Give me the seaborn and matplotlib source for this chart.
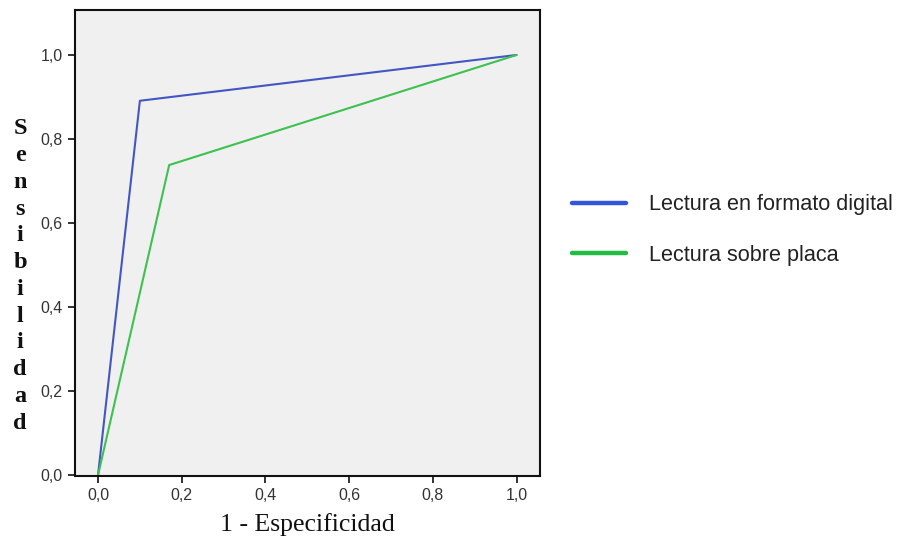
import matplotlib
matplotlib.use("Agg")
import matplotlib.pyplot as plt
import seaborn as sns
import pandas as pd

# Data
fpr_digital = [0.0, 0.10, 1.0]
tpr_digital = [0.0, 0.891, 1.0]
fpr_placa = [0.0, 0.170, 1.0]
tpr_placa = [0.0, 0.738, 1.0]
series_names = ["Lectura en formato digital", "Lectura sobre placa"]
tick_values = [0.0, 0.2, 0.4, 0.6, 0.8, 1.0]
tick_labels = ["0,0", "0,2", "0,4", "0,6", "0,8", "1,0"]
colors = ["#4257C2", "#3DC24F"]

df = pd.concat([
    pd.DataFrame({"x": fpr_digital, "y": tpr_digital, "serie": series_names[0]}),
    pd.DataFrame({"x": fpr_placa, "y": tpr_placa, "serie": series_names[1]}),
], ignore_index=True)

sns.set_style("ticks")
plt.rcParams["font.family"] = ["Liberation Sans", "DejaVu Sans"]

fig = plt.figure(figsize=(8.97, 5.45), dpi=100)
ax = fig.add_axes([75/897, (545-476)/545, 465/897, 466/545])
ax.set_facecolor("#F0F0F0")

sns.lineplot(data=df, x="x", y="y", hue="serie", palette=colors, sort=False,
             estimator=None, linewidth=1.5, ax=ax, legend=True)

ax.set_xlim(-0.055, 1.056)
ax.set_ylim(-0.002, 1.107)
ax.set_xticks(tick_values)
ax.set_xticklabels(tick_labels)
ax.set_yticks(tick_values)
ax.set_yticklabels(tick_labels)
ax.tick_params(axis="both", direction="out", length=5, width=1.3, colors="#222222",
               labelsize=11.5, labelcolor="#333333", pad=4)
for s in ax.spines.values():
    s.set_visible(True)
    s.set_linewidth(1.5)
    s.set_color("#111111")

ax.set_xlabel("1 - Especificidad", family=["Liberation Serif"], fontsize=18.5, labelpad=7,
              color="#111111")
ax.set_ylabel("")
fig.text(20/897, 1 - 276/545, "\n".join("Sensibilidad"), family=["Liberation Serif"],
         fontsize=17.5, ha="center", va="center", linespacing=1.36, fontweight="bold",
         color="#111111")

leg = ax.legend(loc="center left", bbox_to_anchor=(1.026, 0.528), frameon=False,
                fontsize=15.6, handlelength=2.5, handletextpad=1.05, labelspacing=1.36)
for h in leg.get_lines():
    h.set_linewidth(3.2)
leg.get_lines()[0].set_color("#3355DD")
leg.get_lines()[1].set_color("#22BB44")
for t in leg.get_texts():
    t.set_color("#222222")

fig.savefig("out.png", dpi=100)
